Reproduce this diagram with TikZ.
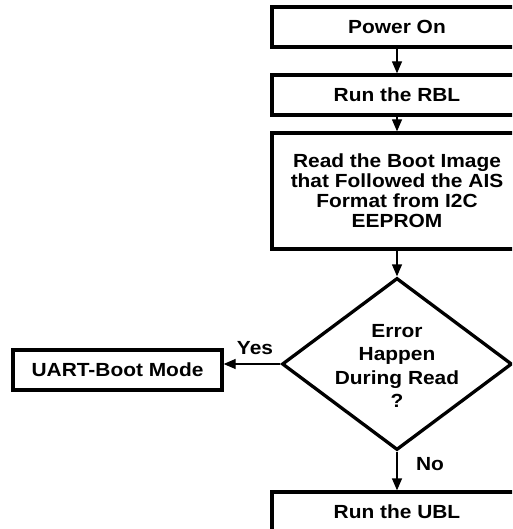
\documentclass[tikz,border=0pt]{standalone}
\usepackage{fontspec}
\setmainfont{Liberation Sans}[FakeStretch=1.1]
\usetikzlibrary{shapes.geometric,arrows.meta}
\begin{document}
\begin{tikzpicture}[x=1pt,y=-1pt,
  stepbox/.style={draw, rectangle, line width=3.3pt, inner sep=0pt,
    minimum width=250pt, minimum height=40pt, align=center,
    font=\fontsize{19}{20}\selectfont\bfseries},
  decision/.style={draw, diamond, line width=3.3pt, inner sep=0pt,
    minimum width=230pt, minimum height=172pt},
  flow/.style={line width=1.3pt, -{Triangle[length=12pt,width=10pt]}},
  lbl/.style={font=\fontsize{19}{20}\selectfont\bfseries, inner sep=0pt}]
\useasboundingbox (0,0) rectangle (512,529);
\clip (0,0) rectangle (512,529);

\node[stepbox] (pwr) at (397,27) {Power On};
\node[stepbox] (rbl) at (397,95) {Run the RBL};
\node[stepbox, minimum height=116pt] (read) at (397,191)
  {Read the Boot Image\\that Followed the AIS\\Format from I2C\\EEPROM};
\node[decision] (dec) at (397,364) {};
\node[align=center, font=\fontsize{19}{23.5}\selectfont\bfseries] (dtext) at (397,366)
  {Error\\Happen\\During Read\\?};
\node[stepbox, minimum width=209pt] (uart) at (117.5,370) {UART-Boot Mode};
\node[stepbox] (ubl) at (397,512) {Run the UBL};

\draw[flow] (pwr.south) -- (rbl.north);
\draw[flow] (rbl.south) -- (read.north);
\draw[flow] (read.south) -- (dec.north);
\draw[flow] (dec.west) -- (uart.east |- dec.west);
\draw[flow] (dec.south) -- (ubl.north);

\node[lbl] (yes) at (255,348) {Yes};
\node[lbl] (no) at (430,464) {No};
\end{tikzpicture}
\end{document}
